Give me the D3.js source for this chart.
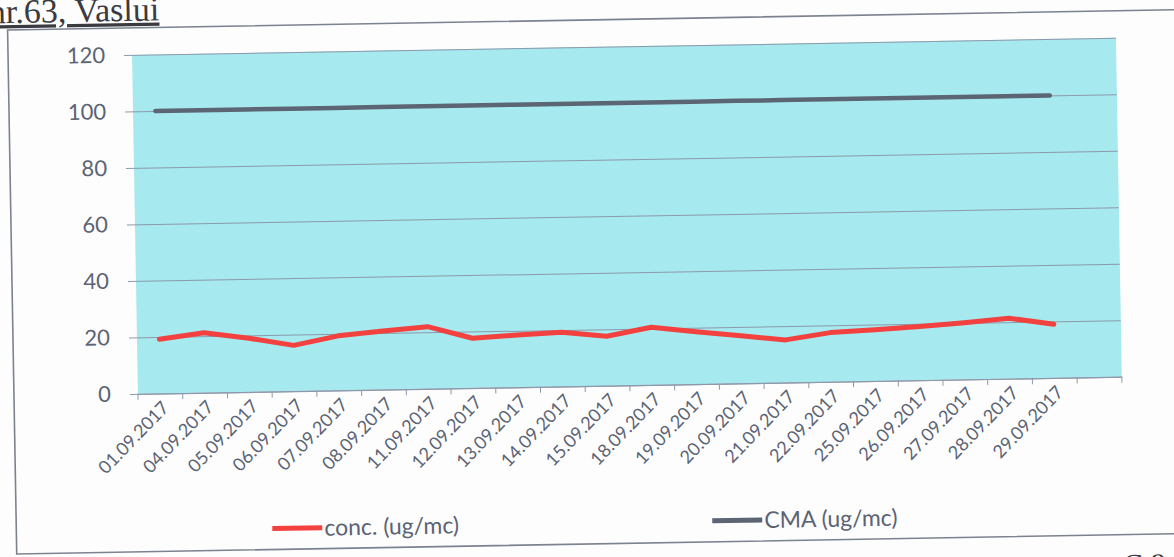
<!DOCTYPE html>
<html>
<head>
<meta charset="utf-8">
<script src="https://cdn.jsdelivr.net/npm/d3@7"></script>
<style>
  body { margin: 0; background: #fdfdfd; overflow: hidden; }
  svg { display: block; }
</style>
</head>
<body>
<div id="chart"></div>
<script>
const dates = ['01.09.2017', '04.09.2017', '05.09.2017', '06.09.2017', '07.09.2017', '08.09.2017',
    '11.09.2017', '12.09.2017', '13.09.2017', '14.09.2017', '15.09.2017', '18.09.2017',
    '19.09.2017', '20.09.2017', '21.09.2017', '22.09.2017', '25.09.2017', '26.09.2017',
    '27.09.2017', '28.09.2017', '29.09.2017'];
const conc = [19.2, 21.2, 19.0, 16.2, 19.3, 20.7, 22.0, 17.6, 18.5, 19.2, 17.5,
    20.4, 18.5, 16.8, 15.1, 17.4, 18.1, 19.0, 20.1, 21.4, 19.0];
const cma = [100, 100, 100, 100, 100, 100, 100, 100, 100, 100, 100,
    100, 100, 100, 100, 100, 100, 100, 100, 100, 100];
const yTicks = [0, 20, 40, 60, 80, 100, 120];
const seriesNames = ['conc. (ug/mc)', 'CMA (ug/mc)'];

const width = 1174;
const height = 557;
const plot = { left: 136, right: 1120, top: 47, bottom: 386 };

const svg = d3.select('#chart')
    .append('svg')
    .attr('width', width)
    .attr('height', height);

// the scan is slightly tilted, so everything goes in one rotated group
const g = svg.append('g').attr('transform', 'rotate(-1, 587, 278)');

g.append('text')
    .attr('x', 164)
    .attr('y', 13)
    .attr('text-anchor', 'end')
    .style('font-family', '"Liberation Serif", serif')
    .style('font-size', '34px')
    .style('fill', '#3a3a40')
    .style('text-decoration', 'underline')
    .text('nr.63, Vaslui');

// chart area border
g.append('rect')
    .attr('x', 12)
    .attr('y', 20)
    .attr('width', 1220)
    .attr('height', 524)
    .attr('fill', 'none')
    .attr('stroke', '#7d8290')
    .attr('stroke-width', 1.6);

const x = d3.scaleBand()
    .domain([...dates, ''])
    .range([plot.left, plot.right]);

const y = d3.scaleLinear()
    .domain([0, 120])
    .range([plot.bottom, plot.top]);

g.append('rect')
    .attr('x', plot.left)
    .attr('y', plot.top)
    .attr('width', plot.right - plot.left)
    .attr('height', plot.bottom - plot.top)
    .attr('fill', '#a6e9ee');

// gridlines + y labels
const yAxis = g.append('g')
    .attr('transform', `translate(${plot.left},0)`)
    .call(d3.axisLeft(y).tickValues(yTicks).tickSize(-(plot.right - plot.left)).tickPadding(27));
yAxis.select('.domain').remove();
yAxis.selectAll('.tick line')
    .attr('x1', -8)
    .attr('stroke', '#8d99ab')
    .attr('stroke-width', 1);
yAxis.selectAll('.tick text')
    .style('font-family', 'Lato, sans-serif')
    .style('font-size', '22px')
    .style('fill', '#5c6374');

// x axis
const xAxis = g.append('g')
    .attr('transform', `translate(0,${plot.bottom})`)
    .call(d3.axisBottom(x).tickSize(0));
xAxis.select('.domain')
    .attr('stroke', '#8d99ab')
    .attr('stroke-width', 1.2);
xAxis.selectAll('.tick text')
    .attr('text-anchor', 'end')
    .attr('x', 0)
    .attr('y', 0)
    .attr('dx', 0)
    .attr('dy', '0.35em')
    .attr('transform', 'translate(5,11) rotate(-45)')
    .style('font-family', 'Lato, sans-serif')
    .style('font-size', '18px')
    .style('fill', '#5c6374');

g.append('g')
    .selectAll('line')
    .data(d3.range(x.domain().length + 1))
    .join('line')
    .attr('x1', i => plot.left + i * x.step())
    .attr('x2', i => plot.left + i * x.step())
    .attr('y1', plot.bottom)
    .attr('y2', plot.bottom + 6)
    .attr('stroke', '#8d99ab')
    .attr('stroke-width', 1);

const line = d3.line()
    .x((d, i) => x(dates[i]) + x.bandwidth() / 2)
    .y(d => y(d));

g.append('path')
    .datum(cma)
    .attr('fill', 'none')
    .attr('stroke', '#5b6573')
    .attr('stroke-width', 4.5)
    .attr('stroke-linecap', 'round')
    .attr('d', line);

g.append('path')
    .datum(conc)
    .attr('fill', 'none')
    .attr('stroke', '#f2413f')
    .attr('stroke-width', 5)
    .attr('stroke-linecap', 'round')
    .attr('stroke-linejoin', 'round')
    .attr('d', line);

// legend
const legend = [
    { name: seriesNames[0], color: '#f2413f', x: 268 },
    { name: seriesNames[1], color: '#5b6573', x: 708 }
];
const lg = g.append('g').selectAll('g')
    .data(legend)
    .join('g')
    .attr('transform', d => `translate(${d.x},523)`);
lg.append('line')
    .attr('x1', 0)
    .attr('x2', 50)
    .attr('stroke', d => d.color)
    .attr('stroke-width', 5);
lg.append('text')
    .attr('x', 52)
    .attr('dy', '0.35em')
    .style('font-family', 'Lato, sans-serif')
    .style('font-size', '23px')
    .style('fill', '#5c6374')
    .text(d => d.name);

// scraps of page text cut off at the bottom edge
g.append('text')
    .attr('x', 1118)
    .attr('y', 584)
    .style('font-family', '"Liberation Serif", serif')
    .style('font-size', '30px')
    .style('fill', '#3a3a40')
    .text('C 8');
</script>
</body>
</html>
